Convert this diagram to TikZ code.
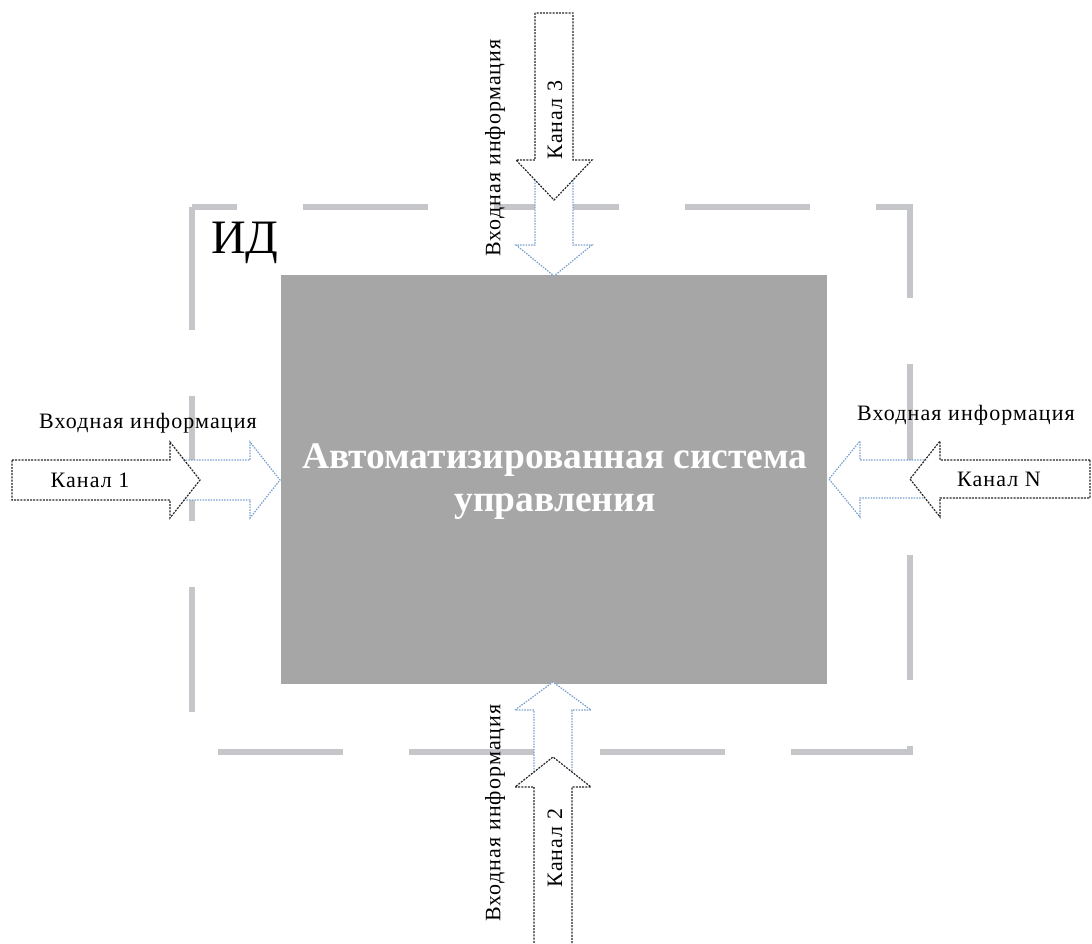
\documentclass[tikz,border=0pt]{standalone}
\usepackage{fontspec}
\setmainfont{Liberation Serif}
\newfontfamily\lblfont{Liberation Serif}[LetterSpace=5]
\definecolor{boxgray}{RGB}{166,166,166}
\definecolor{bordergray}{RGB}{196,198,202}
\definecolor{arrblue}{RGB}{120,160,205}
\begin{document}
\begin{tikzpicture}[x=1pt,y=-1pt,
  border/.style={line width=6pt, draw=bordergray, dash pattern=on 125pt off 66pt, dash phase=80pt},
  darkarr/.style={draw=black!85, line width=1.2pt, dash pattern=on 2pt off 1.2pt},
  bluearr/.style={draw=arrblue, line width=1.2pt, dash pattern=on 1.5pt off 1.2pt},
  lbl/.style={font=\lblfont\fontsize{22}{26}\selectfont, inner sep=0pt},
  chan/.style={font=\lblfont\fontsize{22}{26}\selectfont, inner sep=0pt}]
\useasboundingbox (0,0) rectangle (1092,944);
% dashed boundary
\draw[border] (192,207) -- (910,207) -- (910,752) -- (192,752) -- cycle;
% main box
\node[fill=boxgray, minimum width=546pt, minimum height=409pt, inner sep=0pt] (asu) at (554,479.5) {};
\node[align=center, text=white, font=\bfseries\fontsize{37.5}{43}\selectfont, inner sep=0pt] (asutext) at (555,482) {Автоматизированная система\\управления};
\node[font=\fontsize{48}{52}\selectfont, inner sep=0pt, anchor=base west] (id) at (211,253) {ИД};
% ---- blue (inner) arrows ----
% left
\fill[white] (183,460) -- (250,460) -- (250,442) -- (280,480) -- (250,518) -- (250,500) -- (183,500) -- cycle;
\draw[bluearr] (183,460) -- (250,460) -- (250,442) -- (280,480) -- (250,518) -- (250,500) -- (183,500);
% right
\fill[white] (924,460) -- (860,460) -- (860,441) -- (829,479) -- (860,517) -- (860,498) -- (924,498) -- cycle;
\draw[bluearr] (924,460) -- (860,460) -- (860,441) -- (829,479) -- (860,517) -- (860,498) -- (924,498);
% top
\fill[white] (535,180) -- (535,245) -- (516,245) -- (554,276) -- (592,245) -- (573,245) -- (573,180) -- cycle;
\draw[bluearr] (535,180) -- (535,245) -- (516,245) -- (554,276) -- (592,245) -- (573,245) -- (573,180);
% bottom
\fill[white] (534,772) -- (534,710) -- (515,710) -- (553,682) -- (591,710) -- (572,710) -- (572,772) -- cycle;
\draw[bluearr] (534,772) -- (534,710) -- (515,710) -- (553,682) -- (591,710) -- (572,710) -- (572,772);
% ---- dark (outer) arrows ----
\draw[darkarr] (12,460) -- (170,460) -- (170,442) -- (200,480) -- (170,518) -- (170,500) -- (12,500) -- cycle;
\draw[darkarr] (1090,460) -- (940,460) -- (940,441) -- (910,479) -- (940,517) -- (940,498) -- (1090,498) -- cycle;
\draw[darkarr] (535,13) -- (535,160) -- (516,160) -- (554,200) -- (592,160) -- (573,160) -- (573,13) -- cycle;
\draw[darkarr] (534,946) -- (534,787) -- (515,787) -- (553,757) -- (591,787) -- (572,787) -- (572,946);
% ---- labels ----
\node[lbl] (in1) at (148,423) {Входная информация};
\node[lbl] (inN) at (966,415) {Входная информация};
\node[lbl, rotate=90] (in3) at (495,148) {Входная информация};
\node[lbl, rotate=90] (in2) at (495,813) {Входная информация};
\node[chan] (c1) at (90,480) {Канал 1};
\node[chan] (cN) at (999,479) {Канал N};
\node[chan, rotate=90] (c3) at (555,120) {Канал 3};
\node[chan, rotate=90] (c2) at (555,848) {Канал 2};
\end{tikzpicture}
\end{document}
